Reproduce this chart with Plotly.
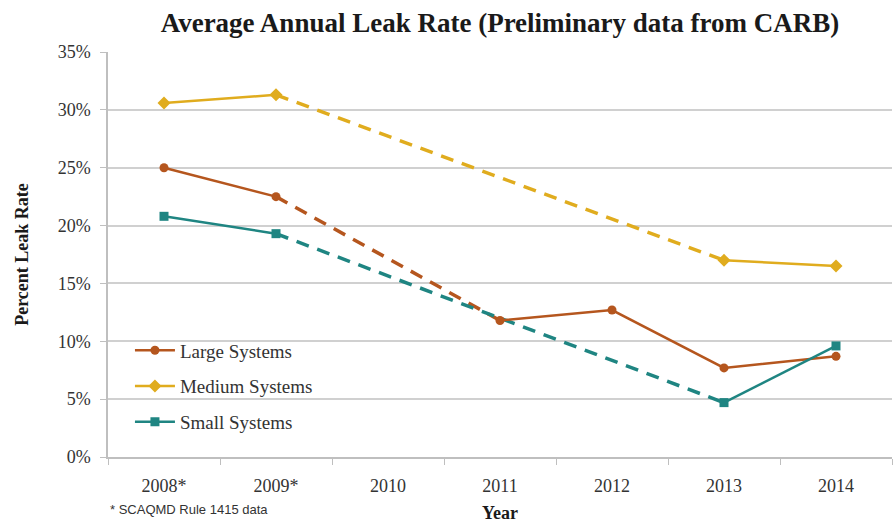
import plotly.graph_objects as go

years = ["2008*", "2009*", "2010", "2011", "2012", "2013", "2014"]
large = [25.0, 22.5, None, 11.8, 12.7, 7.7, 8.7]
medium = [30.6, 31.3, None, None, None, 17.0, 16.5]
small = [20.8, 19.3, None, None, None, 4.7, 9.6]

names = ["Large Systems", "Medium Systems", "Small Systems"]
colors = ["#B5561E", "#E0AC1E", "#1F8582"]
symbols = ["circle", "diamond", "square"]
series = [large, medium, small]

SERIF = "Liberation Serif, Times New Roman, serif"

fig = go.Figure()


def gap_endpoints(vals):
    out = [None] * len(vals)
    for i, v in enumerate(vals):
        if v is None:
            continue
        prev_missing = i > 0 and vals[i - 1] is None
        next_missing = i < len(vals) - 1 and vals[i + 1] is None
        if prev_missing or next_missing:
            out[i] = v
    return out


# dashed connectors across missing years
for vals, c in zip(series, colors):
    fig.add_trace(go.Scatter(
        x=years, y=gap_endpoints(vals), mode="lines", connectgaps=True,
        line=dict(color=c, width=3.5, dash="13px,9px"),
        showlegend=False, hoverinfo="skip"))

for vals, n, c, s in zip(series, names, colors, symbols):
    fig.add_trace(go.Scatter(
        x=years, y=vals, name=n, legendgroup=n, mode="lines+markers", connectgaps=False,
        line=dict(color=c, width=2.5),
        marker=dict(symbol=s, size=9 if s != "diamond" else 10, color=c)))

fig.update_layout(
    width=894, height=525,
    margin=dict(l=108, r=2, t=52, b=68),
    paper_bgcolor="white", plot_bgcolor="white",
    title=dict(text="<b>Average Annual Leak Rate (Preliminary data from CARB)</b>",
               x=0.5, xref="paper", y=0.958, yanchor="middle",
               font=dict(family=SERIF, size=27, color="#1a1a1a")),
    xaxis=dict(type="category", range=[-0.5, 6.5], showgrid=False,
               showline=True, linecolor="#BFBFBF", linewidth=1.5,
               ticks="outside", tickson="boundaries", ticklen=6, tickcolor="#BFBFBF",
               ticklabelstandoff=12,
               tickfont=dict(family=SERIF, size=18, color="#333333"),
               title=dict(text="<b>Year</b>", font=dict(family=SERIF, size=18, color="#1a1a1a"),
                          standoff=11)),
    yaxis=dict(range=[0, 35], dtick=5, ticksuffix="%", showgrid=True,
               gridcolor="#D0D0D0", gridwidth=1.5, showline=True, linecolor="#BFBFBF",
               linewidth=1.5, ticks="outside", ticklen=6, tickcolor="#BFBFBF",
               zeroline=False, ticklabelstandoff=6,
               tickfont=dict(family=SERIF, size=18, color="#333333"),
               title=dict(text="<b>Percent Leak Rate</b>",
                          font=dict(family=SERIF, size=18, color="#1a1a1a"), standoff=24)),
    legend=dict(x=0.028, y=0.31, xanchor="left", yanchor="top",
                bgcolor="rgba(0,0,0,0)", font=dict(family=SERIF, size=19, color="#333333"),
                tracegroupgap=8, itemwidth=40),
    showlegend=True,
)

fig.add_annotation(text="* SCAQMD Rule 1415 data", xref="paper", yref="paper",
                   x=0.0, y=-0.13, xanchor="left", yanchor="middle", showarrow=False,
                   font=dict(family="Liberation Sans, Arial, sans-serif", size=13, color="#333333"))

fig.write_html("out.html")
